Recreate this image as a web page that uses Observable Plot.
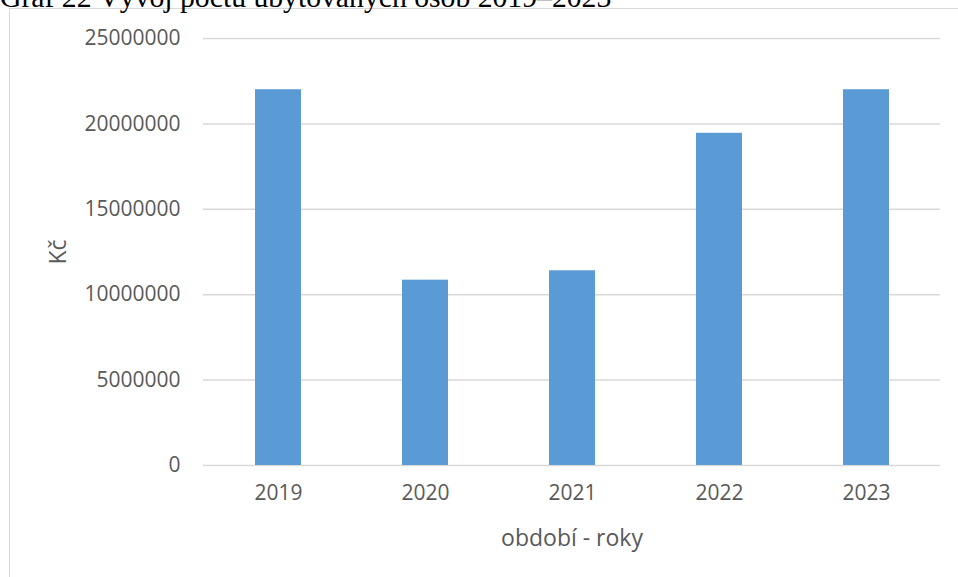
<!DOCTYPE html>
<html>
<head>
<meta charset="utf-8">
<script src="https://cdn.jsdelivr.net/npm/d3@7"></script>
<script src="https://cdn.jsdelivr.net/npm/@observablehq/plot@0.6"></script>
<style>
  html, body { margin: 0; padding: 0; background: #fff; }
  #wrap { position: relative; width: 958px; height: 577px; overflow: hidden; }
  #title { position: absolute; left: 0; top: -17px; font-family: "Liberation Serif", "Times New Roman", serif; font-size: 29.7px; color: #000; white-space: nowrap; line-height: 29.7px; }
  #frame { position: absolute; left: 9px; top: 8px; width: 960px; height: 580px; border: 1.5px solid #d9d9d9; box-sizing: border-box; }
  #chart { position: absolute; left: 0; top: 0; }
</style>
</head>
<body>
<div id="wrap">
  <div id="frame"></div>
  <div id="chart"></div>
  <div id="title"></div>
</div>
<script>
const years = ["2019", "2020", "2021", "2022", "2023"];
const values = [22000000, 10850000, 11400000, 19450000, 22000000];
const yTicks = [0, 5000000, 10000000, 15000000, 20000000, 25000000];
const xLabel = "období - roky";
const yLabel = "Kč";
const titleText = "Graf 22 Vývoj počtu ubytovaných osob 2019–2023";

document.getElementById("title").textContent = titleText;
const data = years.map((y, i) => ({year: y, value: values[i]}));

const chart = Plot.plot({
  width: 958,
  height: 577,
  marginLeft: 203,
  marginRight: 18,
  marginTop: 38,
  marginBottom: 112,
  style: {fontFamily: "'Open Sans', sans-serif", fontSize: "21px", color: "#595959", background: "transparent"},
  x: {domain: years, paddingInner: 0.688, paddingOuter: 0.344},
  y: {domain: [0, 25000000]},
  marks: [
    Plot.ruleY(yTicks, {stroke: "#d9d9d9", strokeWidth: 1.5}),
    Plot.barY(data, {x: "year", y: "value", fill: "#5B9BD5"}),
    Plot.axisY({ticks: yTicks, tickSize: 0, tickPadding: 23, tickFormat: d => String(d), label: null, fill: "#595959", fontSize: 21}),
    Plot.axisY({ticks: [], tickSize: 0, label: yLabel, labelAnchor: "center", labelArrow: "none", labelOffset: 154, fill: "#595959", fontSize: 23}),
    Plot.axisX({tickSize: 0, tickPadding: 20, label: null, fill: "#595959", fontSize: 21}),
    Plot.axisX({ticks: [], tickSize: 0, label: xLabel, labelAnchor: "center", labelArrow: "none", labelOffset: 80, fill: "#595959", fontSize: 23})
  ]
});
document.getElementById("chart").appendChild(chart);
</script>
</body>
</html>
